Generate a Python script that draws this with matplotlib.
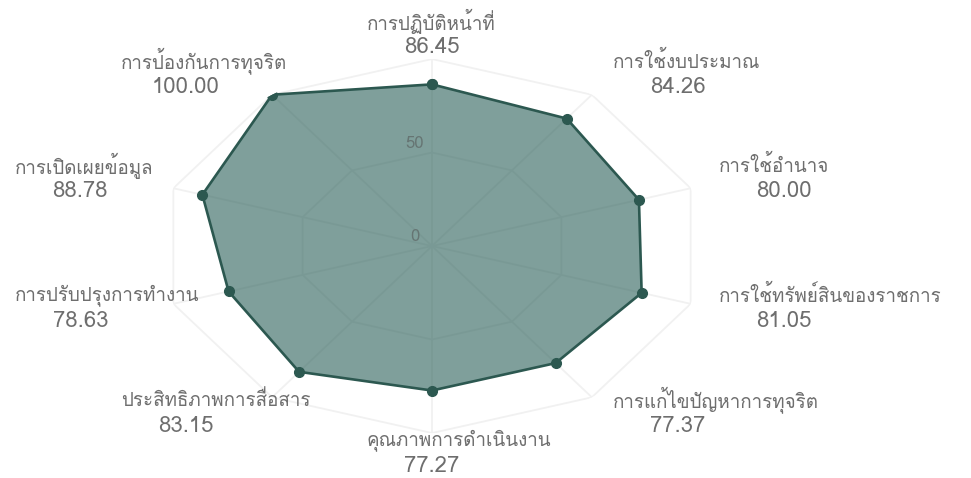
import numpy as np
import matplotlib
matplotlib.use('Agg')
import matplotlib.pyplot as plt
from matplotlib import font_manager
from matplotlib.ft2font import FT2Font

categories = ['การปฏิบัติหน้าที่', 'การใช้งบประมาณ', 'การใช้อำนาจ',
              'การใช้ทรัพย์สินของราชการ', 'การแก้ไขปัญหาการทุจริต',
              'คุณภาพการดำเนินงาน', 'ประสิทธิภาพการสื่อสาร',
              'การปรับปรุงการทำงาน', 'การเปิดเผยข้อมูล', 'การป้องกันการทุจริต']
scores = [86.45, 84.26, 80.00, 81.05, 77.37, 77.27, 83.15, 78.63, 88.78, 100.00]
ring_ticks = [0, 50, 100]

# look for an installed font that has thai glyphs
thai = 'DejaVu Sans'
for f in font_manager.fontManager.ttflist:
    try:
        if 0x0E01 in FT2Font(f.fname).get_charmap():
            thai = f.name
            break
    except Exception:
        pass
fam = [thai, 'DejaVu Sans']

n = len(categories)
angles = np.linspace(0, 2*np.pi, n, endpoint=False)
ang_c = np.append(angles, angles[0])
val_c = np.append(scores, scores[0])

fig = plt.figure(figsize=(9.71, 4.78), dpi=100)
ax = fig.add_axes([0.1648, 0.0941, 0.5602, 0.7824], projection='polar')
ax.set_aspect('auto')
ax.set_theta_zero_location('N'); ax.set_theta_direction(-1)
ax.set_ylim(0, ring_ticks[-1])
ax.grid(False); ax.set_xticks([]); ax.set_yticks([])
ax.spines['polar'].set_visible(False); ax.patch.set_visible(False)

gc = '#f1f1f1'
for r in ring_ticks[1:]:
    ax.plot(ang_c, [r]*len(ang_c), color=gc, lw=1.3, zorder=1)
for a in angles:
    ax.plot([a, a], [0, ring_ticks[-1]], color=gc, lw=1.3, zorder=1)

ax.fill(ang_c, val_c, color='#2a5f58', alpha=0.6, lw=0, zorder=2)
ax.plot(ang_c, val_c, color='#2c5850', lw=1.9, marker='o', ms=7, zorder=3)

for r in ring_ticks[:2]:
    ax.annotate(str(r), xy=(0, r), xytext=(-17, 9), textcoords='offset pixels',
                ha='center', va='center', fontsize=12, color='#667573', family=fam, zorder=4)

for a, lab, v in zip(angles, categories, scores):
    s, c = np.sin(a), np.cos(a)
    dx = 0 if abs(s) < 0.01 else np.sign(s)*(75 + 19*abs(s))
    dy = -10.5 + 22.5*c
    ax.annotate('%.2f' % v, xy=(a, ring_ticks[-1]), xytext=(dx, dy), textcoords='offset pixels',
                ha='center', va='center', fontsize=16, color='#6e6e6e', family=fam, annotation_clip=False)
    ax.annotate(lab, xy=(a, ring_ticks[-1]), xytext=(dx-65, dy+26), textcoords='offset pixels',
                ha='left', va='center', fontsize=13.5, color='#6e6e6e', family=fam, annotation_clip=False)

fig.savefig('out.png', dpi=100)
